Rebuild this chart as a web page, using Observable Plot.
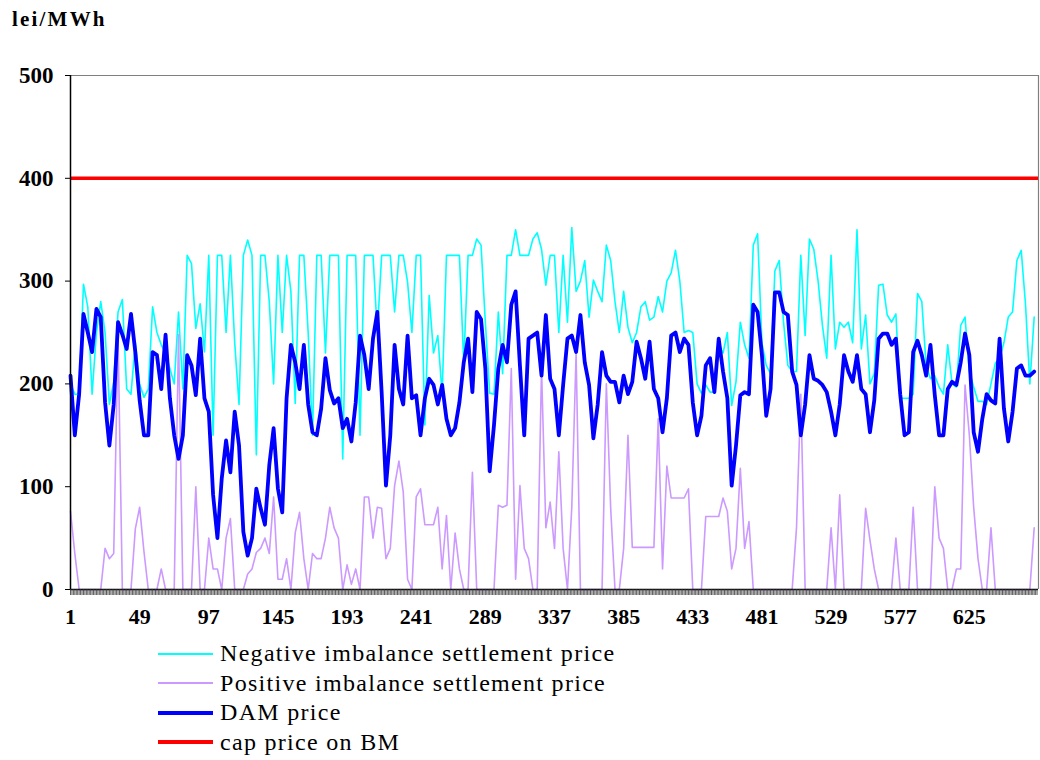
<!DOCTYPE html>
<html>
<head>
<meta charset="utf-8">
<script src="https://cdn.jsdelivr.net/npm/d3@7"></script>
<script src="https://cdn.jsdelivr.net/npm/@observablehq/plot@0.6"></script>
<style>
  html, body { margin: 0; padding: 0; background: #fff; }
  #wrap { position: relative; width: 1040px; height: 760px; font-family: "Liberation Serif", "Times New Roman", serif; }
  #unit { position: absolute; left: 12px; top: 7px; font-size: 21px; font-weight: bold; letter-spacing: 2.2px; }
  #legend { position: absolute; left: 158px; top: 639px; font-size: 24px; letter-spacing: 1.3px; }
  .row { display: flex; align-items: center; height: 29.5px; }
  .sw { display: inline-block; width: 55px; margin-right: 7px; }
</style>
</head>
<body>
<div id="wrap">
  <div id="chart"></div>
  <div id="unit">lei/MWh</div>
  <div id="legend"></div>
</div>
<script>
// hourly index sampled every 3 hours (1 ... 670), 8 samples per day, 28 days
const hours = d3.range(1, 673, 3);

// DAM price (lei/MWh)
const damPrice = [
  208,150,190,268,250,231,273,265,
  182,140,180,260,248,234,268,231,
  184,150,150,231,228,195,248,186,
  150,127,150,228,218,189,244,186,
  173,92,50,108,145,114,173,140,
  56,33,50,98,79,63,121,157,
  98,75,186,238,221,195,238,180,
  153,150,176,225,194,181,186,157,
  166,144,182,247,228,195,244,270,
  192,101,150,238,195,180,247,186,
  189,150,186,205,199,180,199,166,
  150,157,182,221,244,192,270,263,
  215,115,160,215,238,221,277,290,
  218,150,244,247,250,208,267,205,
  195,150,199,244,247,231,267,221,
  199,147,180,231,208,202,202,182,
  208,190,202,241,225,205,241,195,
  186,153,186,247,250,231,244,238,
  182,150,169,218,225,192,244,212,
  186,101,140,189,192,190,277,270,
  228,169,195,289,289,270,267,212,
  199,150,180,228,205,203,199,192,
  173,150,180,228,212,202,228,195,
  190,153,184,244,249,249,238,244,
  190,150,153,231,242,228,208,238,
  189,150,150,195,202,199,221,249,
  228,153,134,166,190,184,181,244,
  176,144,173,215,218,208,208,212
];

// Negative imbalance settlement price
const negImbalance = [
  200,190,190,297,275,190,250,280,
  250,180,202,270,282,195,190,240,
  200,187,195,275,250,238,230,215,
  200,270,195,325,317,254,278,231,
  325,150,325,325,250,325,240,180,
  325,340,325,131,325,325,280,200,
  325,250,325,290,181,325,325,250,
  150,325,325,230,325,325,325,127,
  325,325,325,150,325,325,325,250,
  325,325,325,270,325,325,299,250,
  325,325,160,286,230,247,190,325,
  325,325,325,220,325,325,341,335,
  260,191,190,270,210,325,325,350,
  325,325,325,341,347,331,296,325,
  325,250,325,260,352,290,300,320,
  265,301,290,280,335,320,280,250,
  290,255,240,250,275,280,262,265,
  285,270,300,308,330,300,250,252,
  250,200,191,199,192,192,238,230,
  250,179,202,260,238,225,335,346,
  240,218,210,310,320,260,218,212,
  212,325,247,341,331,300,257,225,
  325,234,260,255,260,240,350,234,
  267,200,210,296,297,267,260,268,
  186,186,186,190,288,280,218,205,
  208,197,190,238,200,197,257,265,
  212,197,183,183,180,200,220,225,
  240,265,270,320,330,277,200,265
];

// Positive imbalance settlement price
const posImbalance = [
  76,35,0,0,0,0,0,0,
  40,30,35,247,0,0,0,59,
  80,37,0,0,0,20,0,0,
  0,248,0,0,0,100,0,0,
  50,20,20,0,50,69,0,0,
  0,15,20,36,40,50,35,90,
  10,10,30,0,55,75,30,0,
  35,30,30,50,80,60,50,0,
  24,5,20,0,90,90,50,80,
  79,30,40,101,125,95,10,0,
  90,98,63,63,63,80,20,72,
  0,55,20,0,0,114,0,0,
  0,0,0,82,80,82,215,10,
  101,40,30,0,0,215,60,85,
  40,134,40,0,80,230,0,0,
  0,0,0,0,200,79,0,0,
  40,150,41,41,41,41,41,41,
  166,20,120,89,89,89,89,98,
  0,0,0,71,71,71,71,89,
  76,20,40,118,40,66,0,0,
  0,0,0,0,0,0,0,0,
  60,190,0,0,0,0,0,0,
  60,0,92,0,0,0,0,0,
  79,48,20,0,0,0,0,50,
  0,0,0,80,0,0,0,0,
  100,50,40,0,0,20,20,199,
  150,80,30,0,0,60,0,0,
  0,0,0,0,0,0,0,60
];

// cap price on balancing market
const capPrice = 400;

const xTickLabels = [1, 49, 97, 145, 193, 241, 289, 337, 385, 433, 481, 529, 577, 625];
const yTicks = [0, 100, 200, 300, 400, 500];
const allHours = d3.range(1, 673);

const seriesNames = ["Negative imbalance settlement price", "Positive imbalance settlement price", "DAM price", "cap price on BM"];
const seriesColors = ["#00FFFF", "#CC99FF", "#0000FF", "#FF0000"];
const seriesWidths = [1.6, 1.6, 3.8, 3.5];

const rows = hours.map((h, i) => ({hour: h, neg: negImbalance[i], pos: posImbalance[i], dam: damPrice[i]}));

const chart = Plot.plot({
  width: 1040,
  height: 640,
  marginLeft: 70,
  marginRight: 2,
  marginTop: 75,
  marginBottom: 51,
  style: {fontFamily: "'Liberation Serif', 'Times New Roman', serif", background: "#fff", color: "#000", overflow: "visible"},
  x: {domain: [1, 673], axis: null},
  y: {domain: [0, 500], axis: null},
  marks: [
    Plot.ruleY([500], {stroke: "#808080", strokeWidth: 1.2}),
    Plot.ruleX([673], {stroke: "#808080", strokeWidth: 1.2}),
    Plot.line(rows, {x: "hour", y: "neg", stroke: seriesColors[0], strokeWidth: seriesWidths[0], strokeLinejoin: "round"}),
    Plot.line(rows, {x: "hour", y: "pos", stroke: seriesColors[1], strokeWidth: seriesWidths[1], strokeLinejoin: "round"}),
    Plot.line(rows, {x: "hour", y: "dam", stroke: seriesColors[2], strokeWidth: seriesWidths[2], strokeLinejoin: "round"}),
    Plot.ruleY([capPrice], {stroke: seriesColors[3], strokeWidth: seriesWidths[3]}),
    Plot.ruleX([1], {stroke: "#000", strokeWidth: 1.5}),
    Plot.ruleY([0], {stroke: "#000", strokeWidth: 1.5}),
    Plot.axisY({ticks: yTicks, tickSize: 5, tickPadding: 12, fontSize: 23, fontWeight: "bold", label: null}),
    Plot.axisX({ticks: allHours, tickSize: 6, tickFormat: () => "", stroke: "#333", strokeWidth: 0.8, label: null}),
    Plot.axisX({ticks: xTickLabels, tickSize: 0, tickPadding: 19, fontSize: 22, fontWeight: "bold", label: null, tickFormat: d => String(d)})
  ]
});
document.getElementById("chart").appendChild(chart);

const legend = document.getElementById("legend");
seriesNames.forEach((name, i) => {
  const row = document.createElement("div");
  row.className = "row";
  const sw = document.createElement("span");
  sw.className = "sw";
  sw.style.borderTop = `${seriesWidths[i] > 2 ? 4 : 2}px solid ${seriesColors[i]}`;
  const t = document.createElement("span");
  t.textContent = name;
  row.appendChild(sw);
  row.appendChild(t);
  legend.appendChild(row);
});
</script>
</body>
</html>
